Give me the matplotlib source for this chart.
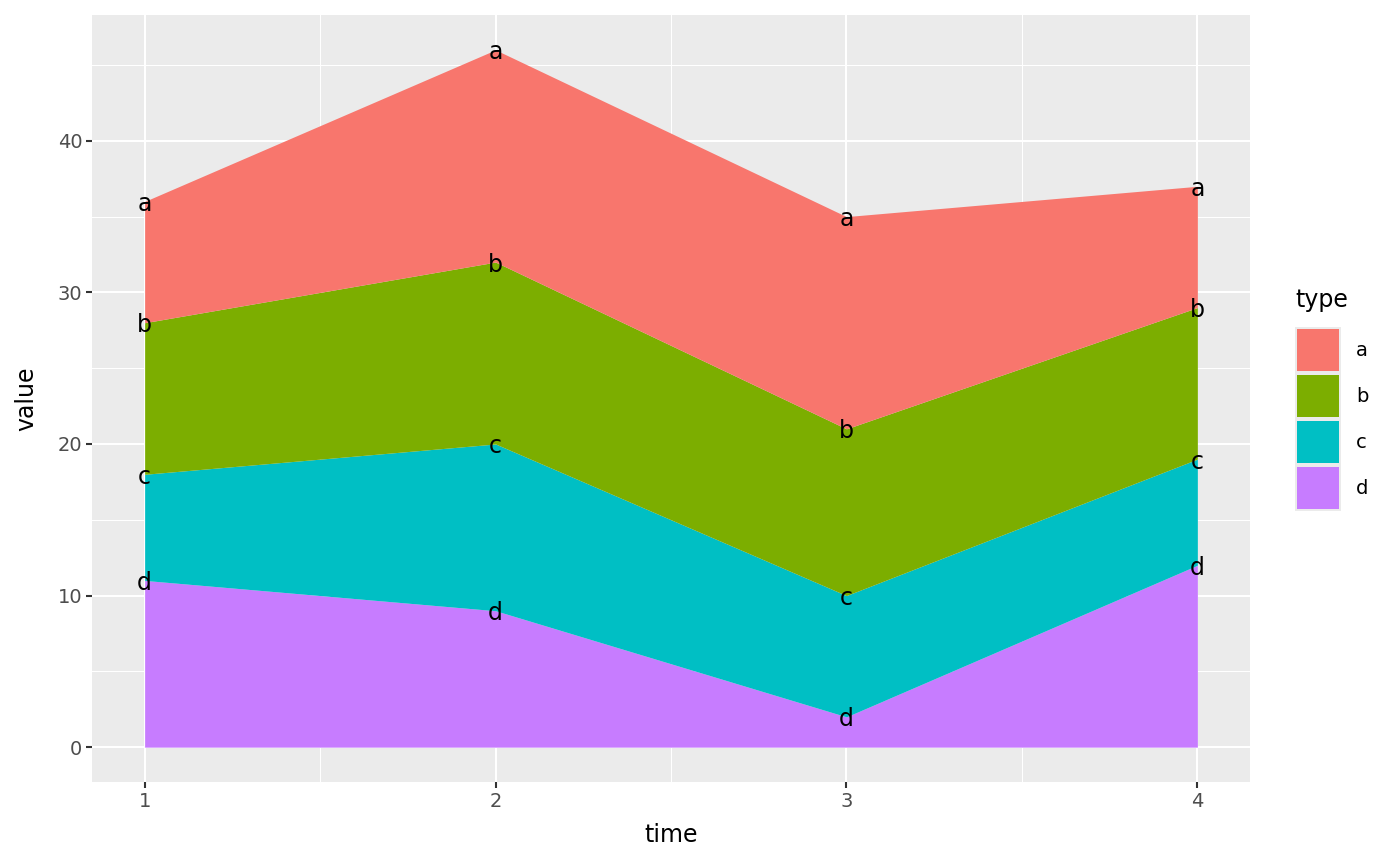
import matplotlib
matplotlib.use("Agg")
import matplotlib.pyplot as plt
from matplotlib.patches import Rectangle
import numpy as np

# data
time = [1, 2, 3, 4]
types = ["a", "b", "c", "d"]
val_a = [8, 14, 14, 8]
val_b = [10, 12, 11, 10]
val_c = [7, 11, 8, 7]
val_d = [11, 9, 2, 12]
colors = {"a": "#F8766D", "b": "#7CAE00", "c": "#00BFC4", "d": "#C77CFF"}

values = {"a": val_a, "b": val_b, "c": val_c, "d": val_d}

plt.rcParams['font.family'] = ['DejaVu Sans']
fig = plt.figure(figsize=(14, 8.66), dpi=100)
ax = fig.add_axes([92 / 1400, 1 - 782 / 866, (1250 - 92) / 1400, (782 - 15) / 866])
ax.set_facecolor("#EBEBEB")

# stacked from the bottom: d, c, b, a
base = np.zeros(len(time))
for t in ["d", "c", "b", "a"]:
    top = base + np.array(values[t])
    ax.fill_between(time, base, top, color=colors[t], linewidth=0, zorder=2)
    for x, y in zip(time, top):
        ax.text(x, y, t, ha="center", va="center_baseline", fontsize=17, color="black", zorder=4)
    base = top

ymax = base.max()
ax.set_xlim(1 - 0.15, 4 + 0.15)
ax.set_ylim(-ymax * 0.05, ymax * 1.05)

ax.set_xticks(time)
ax.set_xticks([1.5, 2.5, 3.5], minor=True)
ax.set_yticks([0, 10, 20, 30, 40])
ax.set_yticks([5, 15, 25, 35, 45], minor=True)
ax.grid(which="major", color="white", linewidth=1.5, zorder=1)
ax.grid(which="minor", color="white", linewidth=0.75, zorder=1)
ax.set_axisbelow(True)
for s in ax.spines.values():
    s.set_visible(False)
ax.tick_params(which="major", length=4, width=1.5, color="#333333",
               labelcolor="#4D4D4D", labelsize=14, pad=3)
ax.tick_params(which="minor", length=0)
ax.set_xlabel("time", fontsize=17, labelpad=9)
ax.set_ylabel("value", fontsize=17, labelpad=14)

# legend drawn by hand in figure pixels
fig.text(1295 / 1400, 1 - 300 / 866, "type", fontsize=17, va="center", ha="left")
key_h = 46
for i, t in enumerate(types):
    y0 = 327 + i * key_h
    fig.add_artist(Rectangle((1295 / 1400, 1 - (y0 + key_h) / 866), 46 / 1400, key_h / 866,
                             transform=fig.transFigure, facecolor="#EBEBEB", edgecolor="none"))
    fig.add_artist(Rectangle((1297 / 1400, 1 - (y0 + key_h - 2) / 866), 42 / 1400, (key_h - 4) / 866,
                             transform=fig.transFigure, facecolor=colors[t], edgecolor="none"))
    fig.text(1356 / 1400, 1 - (y0 + key_h / 2) / 866, t, fontsize=14, va="center", ha="left")

fig.savefig("out.png", dpi=100)
